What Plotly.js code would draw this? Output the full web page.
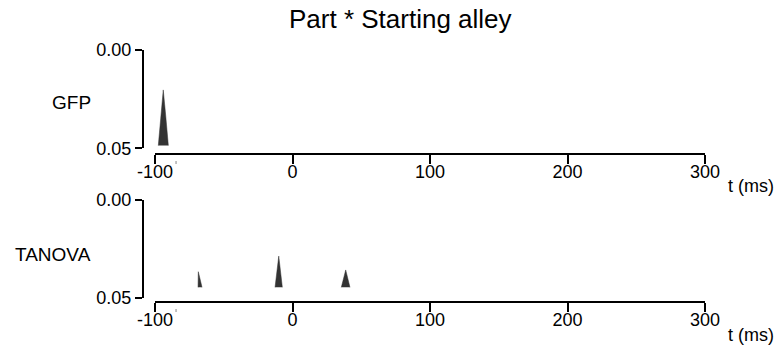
<!DOCTYPE html>
<html>
<head>
<meta charset="utf-8">
<script src="https://cdn.plot.ly/plotly-3.0.1.min.js"></script>
<style>html,body{margin:0;padding:0;background:#fff;}#chart{width:777px;height:351px;}</style>
</head>
<body>
<div id="chart"></div>
<script>
// ---- data ----
const chartTitle = "Part * Starting alley";
const panelNames = ["GFP", "TANOVA"];
const xTickVals = [-100, 0, 100, 200, 300];
const xTickText = ["-100", "0", "100", "200", "300"];
const yTickVals = [0, 0.05];
const yTickText = ["0.00", "0.05"];
const xUnit = "t (ms)";

// GFP: p-values of the significant segment (time in ms)
const gfpTime = [-97.6, -95.8, -94.0, -92.2, -90.3];
const gfpP    = [0.0486, 0.0345, 0.0203, 0.0335, 0.0486];

// TANOVA: p-values of significant segments (null separates segments)
const tanovaTime = [-68.7, -68.5, -65.8, null, -12.7, -10.0, -7.4, null, 35.5, 38.7, 41.8];
const tanovaP    = [0.0447, 0.0367, 0.0447, null, 0.0447, 0.0287, 0.0447, null, 0.0447, 0.0358, 0.0447];

// small marker ticks under the time axes (ms)
const markTimes = [-84.7];

// ---- layout helpers ----
const W = 777, H = 351;
const px = v => v / W;
const py = v => 1 - v / H;
const FONT = "Arial, 'Liberation Sans', Helvetica, sans-serif";
const fill = "#333333";

const traces = [
  {x: gfpTime, y: gfpP, xaxis: "x", yaxis: "y", type: "scatter", mode: "lines",
   fill: "toself", fillcolor: fill, line: {color: fill, width: 0.5}, hoverinfo: "skip"},
  {x: tanovaTime, y: tanovaP, xaxis: "x2", yaxis: "y2", type: "scatter", mode: "lines",
   fill: "toself", fillcolor: fill, line: {color: fill, width: 0.5}, hoverinfo: "skip"}
];

const xDomain = [px(155), px(705)];
function xAxis(pos) {
  return {domain: xDomain, range: [-100, 300], anchor: "free", position: pos,
    showline: true, linecolor: "#000", linewidth: 2, ticks: "outside", ticklen: 9,
    tickwidth: 2, tickcolor: "#000", tickvals: xTickVals, ticktext: xTickText,
    showgrid: false, zeroline: false, ticklabelstandoff: -8,
    tickfont: {family: FONT, size: 18, color: "#000"}, fixedrange: true};
}
function yAxis(top, bottom) {
  return {domain: [py(bottom), py(top)], range: [0.05, 0], anchor: "free", position: px(143),
    showline: true, linecolor: "#000", linewidth: 2, ticks: "outside", ticklen: 7,
    tickwidth: 2, tickcolor: "#000", tickvals: yTickVals, ticktext: yTickText,
    showgrid: false, zeroline: false, tickfont: {family: FONT, size: 18, color: "#000"}, fixedrange: true};
}

const axisLines = [154, 302];
const shapes = [];
axisLines.forEach((a, k) => markTimes.forEach(t => {
  shapes.push({type: "line", xref: ["x", "x2"][k], yref: "paper",
    x0: t, x1: t, y0: py(a + 7), y1: py(a + 10), line: {color: "#888", width: 1}});
}));

const layout = {
  width: W, height: H,
  margin: {l: 0, r: 0, t: 0, b: 0},
  paper_bgcolor: "#fff", plot_bgcolor: "rgba(0,0,0,0)",
  showlegend: false,
  font: {family: FONT, color: "#000"},
  xaxis: xAxis(py(axisLines[0])),
  yaxis: yAxis(50, 148.3),
  xaxis2: xAxis(py(axisLines[1])),
  yaxis2: yAxis(200, 297.7),
  shapes: shapes,
  annotations: [
    {text: chartTitle, x: px(400.5), y: py(19), xref: "paper", yref: "paper",
     xanchor: "center", yanchor: "middle", showarrow: false, font: {family: FONT, size: 26, color: "#000"}},
    {text: panelNames[0], x: px(71), y: py(102), xref: "paper", yref: "paper",
     xanchor: "center", yanchor: "middle", showarrow: false, font: {family: FONT, size: 19, color: "#000"}},
    {text: panelNames[1], x: px(52.5), y: py(254.5), xref: "paper", yref: "paper",
     xanchor: "center", yanchor: "middle", showarrow: false, font: {family: FONT, size: 19, color: "#000"}},
    {text: xUnit, x: px(726), y: py(axisLines[0] + 32), xref: "paper", yref: "paper",
     xanchor: "left", yanchor: "middle", showarrow: false, font: {family: FONT, size: 18, color: "#000"}},
    {text: xUnit, x: px(726), y: py(axisLines[1] + 33), xref: "paper", yref: "paper",
     xanchor: "left", yanchor: "middle", showarrow: false, font: {family: FONT, size: 18, color: "#000"}}
  ]
};

Plotly.newPlot("chart", traces, layout, {staticPlot: true, displayModeBar: false});
</script>
</body>
</html>
